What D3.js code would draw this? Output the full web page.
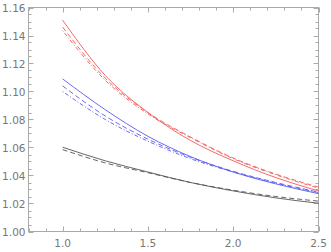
<!DOCTYPE html>
<html>
<head>
<meta charset="utf-8">
<script src="https://cdn.jsdelivr.net/npm/d3@7"></script>
<style>
  body { margin: 0; background: #fff; }
  text { font-family: "DejaVu Sans", sans-serif; }
</style>
</head>
<body>
<script>
// values at x = 1.0 .. 2.5
var xs = [1.0, 1.25, 1.5, 1.75, 2.0, 2.25, 2.5];
var redSolid   = [1.151, 1.1115, 1.085, 1.065, 1.0505, 1.0385, 1.029];
var redDash    = [1.146, 1.1095, 1.085, 1.0675, 1.0525, 1.041, 1.0317];
var redDot     = [1.1435, 1.108, 1.084, 1.067, 1.052, 1.0405, 1.031];
var blueSolid  = [1.109, 1.087, 1.068, 1.0535, 1.0425, 1.034, 1.027];
var blueDash   = [1.104, 1.0825, 1.066, 1.053, 1.043, 1.035, 1.0281];
var blueDot    = [1.100, 1.080, 1.0645, 1.052, 1.0425, 1.0345, 1.0278];
var blackSolid = [1.0602, 1.0505, 1.0425, 1.035, 1.029, 1.024, 1.0202];
var blackDash  = [1.0585, 1.049, 1.042, 1.035, 1.0295, 1.025, 1.0217];

var xTicks = [1.0, 1.5, 2.0, 2.5];
var yTicks = [1.00, 1.02, 1.04, 1.06, 1.08, 1.10, 1.12, 1.14, 1.16];

var W = 331, H = 252;
var mLeft = 28.5, mRight = 318.5, mTop = 7.5, mBottom = 231.5;

var svg = d3.select("body").append("svg")
    .attr("width", W)
    .attr("height", H);

var x = d3.scaleLinear().domain([0.8, 2.5]).range([mLeft, mRight]);
var y = d3.scaleLinear().domain([1.0, 1.16]).range([mBottom, mTop]);

var frameColor = "#aaa";

// minor ticks
var xMinor = d3.range(0.8, 2.5001, 0.1).map(function(d) { return +d.toFixed(2); });
var yMinor = d3.range(1.0, 1.1601, 0.005).map(function(d) { return +d.toFixed(3); });

function isMajor(v, list) {
  return list.some(function(t) { return Math.abs(t - v) < 1e-6; });
}

var tickG = svg.append("g").attr("stroke", frameColor).attr("stroke-width", 1);
xMinor.forEach(function(v) {
  var len = isMajor(v, xTicks) ? 5 : 3;
  var px = Math.round(x(v)) + 0.5;
  tickG.append("line").attr("x1", px).attr("x2", px).attr("y1", mBottom).attr("y2", mBottom - len);
  tickG.append("line").attr("x1", px).attr("x2", px).attr("y1", mTop).attr("y2", mTop + len);
});
yMinor.forEach(function(v) {
  var len = isMajor(v, yTicks) ? 5 : 3;
  var py = Math.round(y(v)) + 0.5;
  tickG.append("line").attr("x1", mLeft).attr("x2", mLeft + len).attr("y1", py).attr("y2", py);
  tickG.append("line").attr("x1", mRight).attr("x2", mRight - len).attr("y1", py).attr("y2", py);
});

// frame
svg.append("rect")
    .attr("x", mLeft).attr("y", mTop)
    .attr("width", mRight - mLeft).attr("height", mBottom - mTop)
    .attr("fill", "none").attr("stroke", frameColor).attr("stroke-width", 1);

// tick labels
svg.selectAll(".xl").data(xTicks).enter().append("text")
    .attr("x", function(d) { return x(d); })
    .attr("y", mBottom + 15)
    .attr("text-anchor", "middle")
    .attr("font-size", 10.5)
    .attr("fill", "#777")
    .text(function(d) { return d.toFixed(1); });

svg.selectAll(".yl").data(yTicks).enter().append("text")
    .attr("x", mLeft - 3)
    .attr("y", function(d) { return y(d) + 4; })
    .attr("text-anchor", "end")
    .attr("font-size", 10.5)
    .attr("fill", "#777")
    .text(function(d) { return d.toFixed(2); });

var line = d3.line()
    .x(function(d, i) { return x(xs[i]); })
    .y(function(d) { return y(d); })
    .curve(d3.curveMonotoneX);

var series = [
  { v: redSolid,   c: "#f25a5a", dash: null },
  { v: redDash,    c: "#f25a5a", dash: "5,3" },
  { v: redDot,     c: "#f25a5a", dash: "1,2,4,2" },
  { v: blueSolid,  c: "#5a5af2", dash: null },
  { v: blueDash,   c: "#5a5af2", dash: "5,3" },
  { v: blueDot,    c: "#5a5af2", dash: "1,2,4,2" },
  { v: blackSolid, c: "#555", dash: null },
  { v: blackDash,  c: "#555", dash: "5,3" }
];

series.forEach(function(s) {
  svg.append("path")
      .attr("d", line(s.v))
      .attr("fill", "none")
      .attr("stroke", s.c)
      .attr("stroke-width", 0.9)
      .attr("stroke-dasharray", s.dash);
});
</script>
</body>
</html>
